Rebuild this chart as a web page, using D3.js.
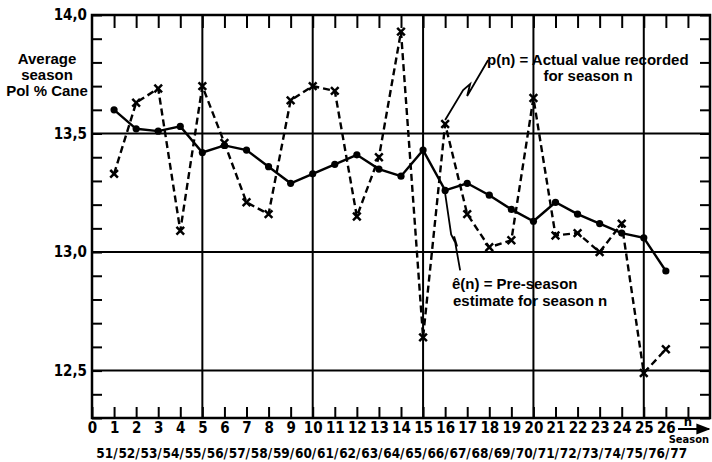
<!DOCTYPE html>
<html>
<head>
<meta charset="utf-8">
<script src="https://cdn.jsdelivr.net/npm/d3@7"></script>
<style>
  html, body { margin: 0; padding: 0; background: #fff; }
  svg { display: block; }
  .cond { font-family: "Liberation Sans Narrow", "DejaVu Sans Condensed", "Liberation Sans", sans-serif; font-weight: bold; }
  .lbl { font-family: "Liberation Sans", Arial, sans-serif; font-weight: bold; }
</style>
</head>
<body>
<svg id="chart"></svg>
<script>
// season index n
const seasons = [1, 2, 3, 4, 5, 6, 7, 8, 9, 10, 11, 12, 13, 14, 15, 16, 17, 18, 19, 20, 21, 22, 23, 24, 25, 26];
// e(n): pre-season estimate
const estimate = [13.60, 13.52, 13.51, 13.53, 13.42, 13.45, 13.43, 13.36, 13.29, 13.33, 13.37, 13.41, 13.35,
  13.32, 13.43, 13.26, 13.29, 13.24, 13.18, 13.13, 13.21, 13.16, 13.12, 13.08, 13.06, 12.92];
// p(n): actual value recorded
const actual = [13.33, 13.63, 13.69, 13.09, 13.70, 13.46, 13.21, 13.16, 13.64, 13.70, 13.68, 13.15, 13.40,
  13.93, 12.64, 13.54, 13.16, 13.02, 13.05, 13.65, 13.07, 13.08, 13.00, 13.12, 12.49, 12.59];
const xTicks = [0, 1, 2, 3, 4, 5, 6, 7, 8, 9, 10, 11, 12, 13, 14, 15, 16, 17, 18, 19, 20, 21, 22, 23, 24, 25, 26, 27];
const xGrid = [5, 10, 15, 20, 25];
const yLabelled = [12.5, 13.0, 13.5, 14.0];
const yMinor = [12.3, 12.4, 12.5, 12.6, 12.7, 12.8, 12.9, 13.0, 13.1, 13.2, 13.3, 13.4, 13.5, 13.6, 13.7, 13.8, 13.9, 14.0];
const years = ["51", "52", "53", "54", "55", "56", "57", "58", "59", "60", "61", "62", "63", "64",
  "65", "66", "67", "68", "69", "70", "71", "72", "73", "74", "75", "76", "77"];

const W = 712, H = 462;
const svg = d3.select('#chart').attr('width', W).attr('height', H);

const x = d3.scaleLinear().domain([0, 28]).range([92, 710]);
const y = d3.scaleLinear().domain([12.3, 14.0]).range([418, 15]);

// grid lines
svg.append('g').selectAll('line.v')
  .data(xGrid).enter().append('line')
  .attr('x1', d => x(d)).attr('x2', d => x(d))
  .attr('y1', y(14.0)).attr('y2', y(12.3))
  .attr('stroke', '#000').attr('stroke-width', 2);
svg.append('g').selectAll('line.h')
  .data([12.5, 13.0, 13.5]).enter().append('line')
  .attr('x1', x(0)).attr('x2', x(28))
  .attr('y1', d => y(d)).attr('y2', d => y(d))
  .attr('stroke', '#000').attr('stroke-width', 2);

// axes (ticks inward)
const fmt = d => d3.format('.1f')(d).replace('.', ',');
const axLeft = svg.append('g').attr('class', 'cond')
  .attr('transform', `translate(${x(0)},0)`)
  .call(d3.axisLeft(y).tickValues(yMinor).tickSize(-10).tickPadding(5)
    .tickFormat(d => yLabelled.some(v => Math.abs(v - d) < 1e-6) ? fmt(d) : ''));
const axRight = svg.append('g')
  .attr('transform', `translate(${x(28)},0)`)
  .call(d3.axisRight(y).tickValues(yMinor).tickSize(-10).tickFormat(''));
const axTop = svg.append('g')
  .attr('transform', `translate(0,${y(14.0)})`)
  .call(d3.axisTop(x).tickValues(xTicks.slice(1)).tickSize(-13).tickFormat(''));
const axBottom = svg.append('g').attr('class', 'cond')
  .attr('transform', `translate(0,${y(12.3)})`)
  .call(d3.axisBottom(x).tickValues(xTicks).tickSize(-11).tickPadding(4)
    .tickFormat(d => d <= 26 ? d : ''));

[axLeft, axRight, axTop, axBottom].forEach(g => {
  g.select('.domain').remove();
  g.selectAll('.tick line').attr('stroke', '#000').attr('stroke-width', 2);
});
axLeft.selectAll('.tick text').attr('font-size', 15).attr('fill', '#000');
axBottom.selectAll('.tick text').attr('font-size', 15).attr('fill', '#000');

// frame
svg.append('rect')
  .attr('x', x(0)).attr('y', y(14.0))
  .attr('width', x(28) - x(0)).attr('height', y(12.3) - y(14.0))
  .attr('fill', 'none').attr('stroke', '#000').attr('stroke-width', 2.5);

// p(n) dashed with crosses
const pLine = d3.line().x((d, i) => x(seasons[i])).y(d => y(d));
svg.append('path').datum(actual)
  .attr('d', pLine).attr('fill', 'none').attr('stroke', '#000')
  .attr('stroke-width', 2.4).attr('stroke-dasharray', '7,4');
svg.append('g').selectAll('path.cross')
  .data(actual).enter().append('path')
  .attr('d', d3.symbol().type(d3.symbolX).size(40))
  .attr('transform', (d, i) => `translate(${x(seasons[i])},${y(d)})`)
  .attr('fill', 'none').attr('stroke', '#000').attr('stroke-width', 2.5);

// e(n) solid with dots
const eLine = d3.line().x((d, i) => x(seasons[i])).y(d => y(d));
svg.append('path').datum(estimate)
  .attr('d', eLine).attr('fill', 'none').attr('stroke', '#000').attr('stroke-width', 2.4);
svg.append('g').selectAll('circle')
  .data(estimate).enter().append('circle')
  .attr('cx', (d, i) => x(seasons[i])).attr('cy', d => y(d)).attr('r', 3.6).attr('fill', '#000');

// y axis title
const yTitle = svg.append('text').attr('class', 'lbl').attr('font-size', 15)
  .attr('text-anchor', 'middle').attr('fill', '#000');
[['Average', 64], ['season', 80], ['Pol % Cane', 96]].forEach(([t, yy]) => {
  yTitle.append('tspan').attr('x', 47).attr('y', yy).text(t);
});

// annotations
const px = x(16), py = y(actual[15]);
svg.append('path')
  .attr('d', `M${px},${py - 4} L${px + 18},${py - 34} L${px + 25},${py - 40} L${px + 22},${py - 28} L${px + 43},${py - 64}`)
  .attr('fill', 'none').attr('stroke', '#000').attr('stroke-width', 1.8);
const ex = x(16), ey = y(estimate[15]);
svg.append('path')
  .attr('d', `M${ex},${ey + 3} L${ex + 6},${ey + 44} L${ex + 12},${ey + 56} L${ex + 9},${ey + 46} L${ex + 15},${ey + 80}`)
  .attr('fill', 'none').attr('stroke', '#000').attr('stroke-width', 1.8);

const note = (tx, ty, t, anchor) => svg.append('text').attr('class', 'lbl').attr('font-size', 15)
  .attr('fill', '#000').attr('x', tx).attr('y', ty).attr('text-anchor', anchor || 'start').text(t);
note(487, 65, 'p(n) = Actual value recorded');
note(588, 81, 'for season n', 'middle');
note(452, 289, 'ê(n) = Pre-season');
note(453, 306, 'estimate for season n');

// n arrow + Season
svg.append('defs').append('marker')
  .attr('id', 'arr').attr('viewBox', '0 0 10 10').attr('refX', 9).attr('refY', 5)
  .attr('markerWidth', 7).attr('markerHeight', 7).attr('orient', 'auto')
  .append('path').attr('d', 'M0,1 L10,5 L0,9 Z').attr('fill', '#000');
svg.append('text').attr('class', 'cond').attr('font-size', 13).attr('fill', '#000')
  .attr('x', x(27)).attr('y', 426).attr('text-anchor', 'middle').text('n');
svg.append('line')
  .attr('x1', 678).attr('x2', 709).attr('y1', 429).attr('y2', 429)
  .attr('stroke', '#000').attr('stroke-width', 2).attr('marker-end', 'url(#arr)');
svg.append('text').attr('class', 'cond').attr('font-size', 11).attr('fill', '#000')
  .attr('x', 709).attr('y', 443).attr('text-anchor', 'end').text('Season');

// season years row
const yr = svg.append('g').attr('class', 'cond').attr('font-size', 13.5).attr('fill', '#000');
yr.selectAll('text.y').data(years).enter().append('text')
  .attr('x', (d, i) => x(i + 0.58)).attr('y', 458).attr('text-anchor', 'middle').text(d => d);
yr.selectAll('text.s').data(years.slice(1)).enter().append('text')
  .attr('x', (d, i) => x(i + 1.06)).attr('y', 458).attr('text-anchor', 'middle').text('/');
</script>
</body>
</html>
